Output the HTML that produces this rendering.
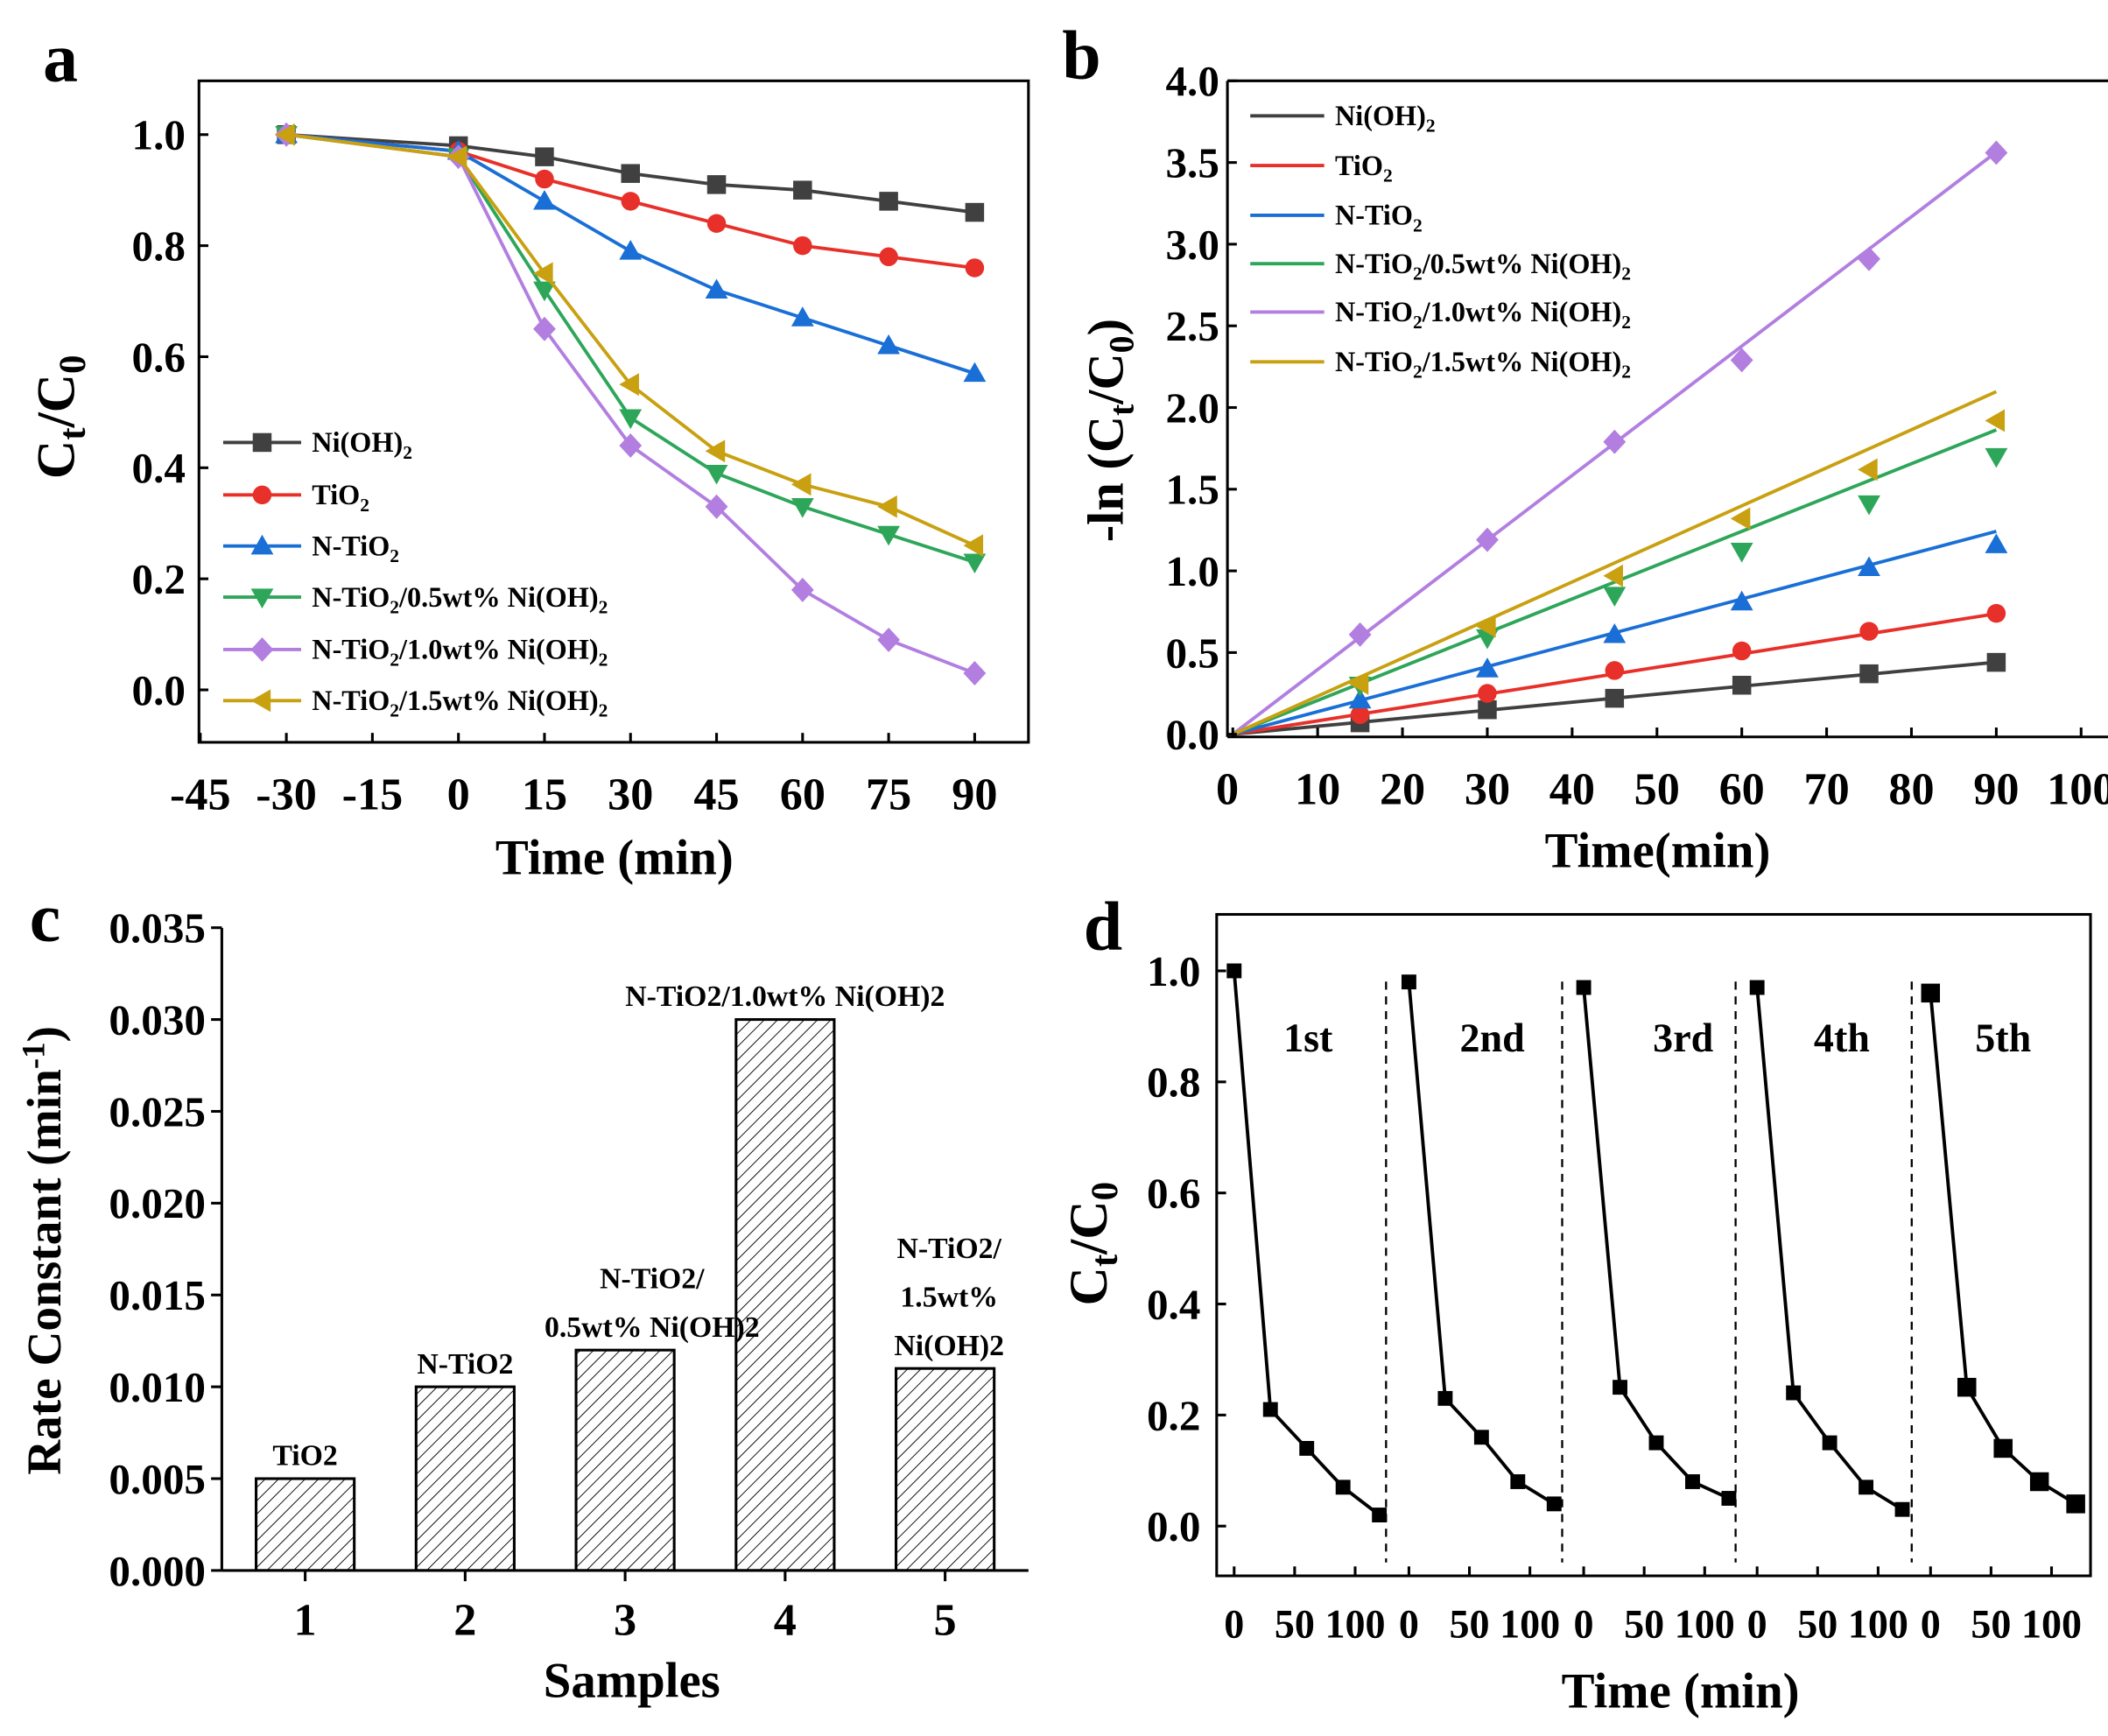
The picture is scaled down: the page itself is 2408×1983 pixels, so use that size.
<!DOCTYPE html>
<html><head><meta charset="utf-8">
<style>
html,body{margin:0;padding:0;background:#fff;}
svg{display:block;}
text{font-family:"Liberation Serif",serif;font-weight:bold;fill:#000;}
</style></head>
<body>
<svg id="fig" width="2408" height="1983" viewBox="0 0 1568 1291" xmlns="http://www.w3.org/2000/svg">
<defs>
<pattern id="hatch" patternUnits="userSpaceOnUse" width="7" height="7" patternTransform="rotate(45)">
<line x1="0" y1="0" x2="0" y2="7" stroke="#000" stroke-width="1.2"/>
</pattern>
</defs>
</svg>
<script>
// ---------- data ----------
const aTimes = [-30, 0, 15, 30, 45, 60, 75, 90];
const aNi = [1, 0.98, 0.96, 0.93, 0.91, 0.90, 0.88, 0.86];
const aTiO2 = [1, 0.97, 0.92, 0.88, 0.84, 0.80, 0.78, 0.76];
const aNTiO2 = [1, 0.97, 0.88, 0.79, 0.72, 0.67, 0.62, 0.57];
const aN05 = [1, 0.96, 0.72, 0.49, 0.39, 0.33, 0.28, 0.23];
const aN10 = [1, 0.96, 0.65, 0.44, 0.33, 0.18, 0.09, 0.03];
const aN15 = [1, 0.96, 0.75, 0.55, 0.43, 0.37, 0.33, 0.26];
const aXTicks = [-45, -30, -15, 0, 15, 30, 45, 60, 75, 90];
const aYTicks = [0.0, 0.2, 0.4, 0.6, 0.8, 1.0];

const bTimes = [15, 30, 45, 60, 75, 90];
const bNi = [0.07, 0.15, 0.22, 0.30, 0.37, 0.44];
const bTiO2 = [0.12, 0.25, 0.39, 0.51, 0.63, 0.74];
const bNTiO2 = [0.21, 0.40, 0.61, 0.81, 1.02, 1.16];
const bN05 = [0.30, 0.59, 0.85, 1.12, 1.41, 1.70];
const bN10 = [0.61, 1.19, 1.79, 2.29, 2.91, 3.56];
const bN15 = [0.31, 0.66, 0.97, 1.32, 1.62, 1.92];
const bSlopes = [0.0049, 0.0082, 0.0138, 0.0207, 0.0396, 0.0233];
const bXTicks = [0, 10, 20, 30, 40, 50, 60, 70, 80, 90, 100];
const bYTicks = [0.0, 0.5, 1.0, 1.5, 2.0, 2.5, 3.0, 3.5, 4.0];

const cSamples = [1, 2, 3, 4, 5];
const cRates = [0.005, 0.010, 0.012, 0.030, 0.011];
const cYTicks = [0.000, 0.005, 0.010, 0.015, 0.020, 0.025, 0.030, 0.035];

const dCycleTimes = [0, 30, 60, 90, 120];
const dCycle1 = [1.0, 0.21, 0.14, 0.07, 0.02];
const dCycle2 = [0.98, 0.23, 0.16, 0.08, 0.04];
const dCycle3 = [0.97, 0.25, 0.15, 0.08, 0.05];
const dCycle4 = [0.97, 0.24, 0.15, 0.07, 0.03];
const dCycle5 = [0.96, 0.25, 0.14, 0.08, 0.04];
const dCycleNames = ["1st", "2nd", "3rd", "4th", "5th"];
const dXTicks = [0, 50, 100];
const dYTicks = [0.0, 0.2, 0.4, 0.6, 0.8, 1.0];

// ---------- helpers ----------
const NS = "http://www.w3.org/2000/svg";
const svg = document.getElementById("fig");
function el(tag, attrs, parent) {
  const e = document.createElementNS(NS, tag);
  for (const k in attrs) e.setAttribute(k, attrs[k]);
  (parent || svg).appendChild(e);
  return e;
}
function txt(x, y, s, size, anchor, parent) {
  const t = el("text", {x: x, y: y, "font-size": size, "text-anchor": anchor || "middle"}, parent);
  t.textContent = s;
  return t;
}
function marker(g, shape, x, y, c, s) {
  let m;
  if (shape === "sq") m = el("rect", {x: x - s, y: y - s, width: 2 * s, height: 2 * s, fill: c}, g);
  else if (shape === "ci") m = el("circle", {cx: x, cy: y, r: s, fill: c}, g);
  else if (shape === "up") m = el("polygon", {points: `${x},${y - s * 1.2} ${x - s * 1.2},${y + s * 0.9} ${x + s * 1.2},${y + s * 0.9}`, fill: c}, g);
  else if (shape === "dn") m = el("polygon", {points: `${x},${y + s * 1.2} ${x - s * 1.2},${y - s * 0.9} ${x + s * 1.2},${y - s * 0.9}`, fill: c}, g);
  else if (shape === "di") m = el("polygon", {points: `${x},${y - s * 1.3} ${x + s * 1.2},${y} ${x},${y + s * 1.3} ${x - s * 1.2},${y}`, fill: c}, g);
  else if (shape === "lt") m = el("polygon", {points: `${x - s * 1.2},${y} ${x + s * 0.9},${y - s * 1.2} ${x + s * 0.9},${y + s * 1.2}`, fill: c}, g);
  
  
  return m;
}
function legendLabel(g, x, y, parts) {
  const t = el("text", {x: x, y: y, "font-size": 21, "text-anchor": "start"}, g);
  parts.forEach(p => {
    const ts = el("tspan", p[1] ? {"font-size": 14, dy: 5} : {dy: p[2] || 0}, t);
    ts.textContent = p[0];
  });
  return t;
}
const colors = ["#404040", "#e8302a", "#1a6fd6", "#2ea65a", "#b27ee0", "#c8a010"];
const shapes = ["sq", "ci", "up", "dn", "di", "lt"];
const legParts = [
  [["Ni(OH)"], ["2", 1]],
  [["TiO"], ["2", 1]],
  [["N-TiO"], ["2", 1]],
  [["N-TiO"], ["2", 1], ["/0.5wt% Ni(OH)", 0, -5], ["2", 1]],
  [["N-TiO"], ["2", 1], ["/1.0wt% Ni(OH)", 0, -5], ["2", 1]],
  [["N-TiO"], ["2", 1], ["/1.5wt% Ni(OH)", 0, -5], ["2", 1]]
];
const legNames = ["legend-nioh2", "legend-tio2", "legend-n-tio2", "legend-n-tio2-0.5wt", "legend-n-tio2-1.0wt", "legend-n-tio2-1.5wt"];

// ---------- Panel A ----------
(function () {
  const g = el("g", {});
  
  
  const L = 148, R = 765, T = 60, B = 552;
  const X = t => 341 + t * (64.0 / 15);
  const Y = v => 513 - v * 413;
  const series = [aNi, aTiO2, aNTiO2, aN05, aN10, aN15];
  series.forEach((s, i) => {
    const sg = el("g", {}, g);
    
    
    el("polyline", {points: s.map((v, j) => X(aTimes[j]) + "," + Y(v)).join(" "), fill: "none", stroke: colors[i], "stroke-width": 2.5}, sg);
    s.forEach((v, j) => marker(sg, shapes[i], X(aTimes[j]), Y(v), colors[i], 7));
  });
  el("rect", {x: L, y: T, width: R - L, height: B - T, fill: "none", stroke: "#000", "stroke-width": 2}, g);
  aXTicks.forEach(t => {
    el("line", {x1: X(t), y1: B, x2: X(t), y2: B - 7, stroke: "#000", "stroke-width": 2}, g);
    const tl = txt(X(t), B + 50, String(t), 34, "middle", g);
    
    
  });
  aYTicks.forEach(v => {
    el("line", {x1: L, y1: Y(v), x2: L + 7, y2: Y(v), stroke: "#000", "stroke-width": 2}, g);
    const tl = txt(L - 10, Y(v) + 11, v.toFixed(1), 32, "end", g);
    
    
  });
  const xt = txt(457, 650, "Time (min)", 37, "middle", g);
  
  
  const yt = el("text", {x: 0, y: 0, "font-size": 40, "text-anchor": "middle", transform: "translate(55,310) rotate(-90)"}, g);
  yt.innerHTML = 'C<tspan font-size="28" dy="8">t</tspan><tspan dy="-8">/C</tspan><tspan font-size="28" dy="8">0</tspan>';
  
  
  const pl = txt(32, 60, "a", 52, "start", g);
  
  
  const legY = [329, 368, 406, 444, 483, 521];
  legY.forEach((y, i) => {
    const lg = el("g", {}, g);
    
    
    el("line", {x1: 166, y1: y, x2: 224, y2: y, stroke: colors[i], "stroke-width": 2.5}, lg);
    marker(lg, shapes[i], 195, y, colors[i], 7);
    legendLabel(lg, 232, y + 7, legParts[i]);
  });
})();

// ---------- Panel B ----------
(function () {
  const g = el("g", {});
  
  
  const L = 913, R = 1568, T = 60, B = 548;
  const X = t => 917 + t * 6.31;
  const Y = v => 546 - v * 121.5;
  const series = [bNi, bTiO2, bNTiO2, bN05, bN10, bN15];
  series.forEach((s, i) => {
    const sg = el("g", {}, g);
    
    
    const fl = el("line", {x1: X(0), y1: Y(0), x2: X(90), y2: Y(bSlopes[i] * 90), stroke: colors[i], "stroke-width": 2.5}, sg);
    
    
    s.forEach((v, j) => marker(sg, shapes[i], X(bTimes[j]), Y(v), colors[i], 7));
  });
  el("line", {x1: L, y1: T, x2: L, y2: B, stroke: "#000", "stroke-width": 2}, g);
  el("line", {x1: L, y1: B, x2: R, y2: B, stroke: "#000", "stroke-width": 2}, g);
  el("line", {x1: L, y1: T, x2: R, y2: T, stroke: "#000", "stroke-width": 2}, g);
  bXTicks.forEach(t => {
    el("line", {x1: X(t), y1: B, x2: X(t), y2: B - 7, stroke: "#000", "stroke-width": 2}, g);
    const tl = txt(X(t) - (t === 0 ? 4 : 0), B + 50, String(t), 34, "middle", g);
    
    
  });
  bYTicks.forEach(v => {
    el("line", {x1: L, y1: Y(v), x2: L + 7, y2: Y(v), stroke: "#000", "stroke-width": 2}, g);
    const tl = txt(L - 6, Y(v) + 11, v.toFixed(1), 32, "end", g);
    
    
  });
  const xt = txt(1233, 645, "Time(min)", 37, "middle", g);
  
  
  const yt = el("text", {x: 0, y: 0, "font-size": 38, "text-anchor": "middle", transform: "translate(835,320) rotate(-90)"}, g);
  yt.innerHTML = '-ln (C<tspan font-size="26" dy="8">t</tspan><tspan dy="-8">/C</tspan><tspan font-size="26" dy="8">0</tspan><tspan dy="-8">)</tspan>';
  
  
  const pl = txt(790, 58, "b", 52, "start", g);
  
  
  const legY = [86, 123, 160, 196, 232, 269];
  legY.forEach((y, i) => {
    const lg = el("g", {}, g);
    
    
    el("line", {x1: 930, y1: y, x2: 985, y2: y, stroke: colors[i], "stroke-width": 2.5}, lg);
    legendLabel(lg, 993, y + 7, legParts[i]);
  });
})();

// ---------- Panel C ----------
(function () {
  const g = el("g", {});
  
  
  const L = 165, R = 765, T = 690, B = 1168;
  const X = s => 227 + (s - 1) * 119;
  const Y = v => B - v / 0.005 * 68.3;
  const bw = 73;
  const barLabels = [["TiO2"], ["N-TiO2"], ["N-TiO2/", "0.5wt% Ni(OH)2"], ["N-TiO2/1.0wt% Ni(OH)2"], ["N-TiO2/", "1.5wt%", "Ni(OH)2"]];
  cSamples.forEach((s, i) => {
    const r = el("rect", {x: X(s) - bw / 2, y: Y(cRates[i]), width: bw, height: B - Y(cRates[i]), fill: "url(#hatch)", stroke: "#000", "stroke-width": 2}, g);
    
    
    const lines = barLabels[i];
    lines.forEach((ln, k) => {
      const t = txt(X(s) + (i === 2 ? 20 : 0) + (i === 4 ? 3 : 0), Y(cRates[i]) - 10 - (lines.length - 1 - k) * 36, ln, 22, "middle", g);
      
      
    });
  });
  el("line", {x1: L, y1: T, x2: L, y2: B, stroke: "#000", "stroke-width": 2}, g);
  el("line", {x1: L, y1: B, x2: R, y2: B, stroke: "#000", "stroke-width": 2}, g);
  cSamples.forEach(s => {
    el("line", {x1: X(s), y1: B, x2: X(s), y2: B + 8, stroke: "#000", "stroke-width": 2}, g);
    const tl = txt(X(s), B + 48, String(s), 34, "middle", g);
    
    
  });
  cYTicks.forEach(v => {
    el("line", {x1: L - 8, y1: Y(v), x2: L, y2: Y(v), stroke: "#000", "stroke-width": 2}, g);
    const tl = txt(L - 12, Y(v) + 11, v.toFixed(3), 32, "end", g);
    
    
  });
  const xt = txt(470, 1262, "Samples", 37, "middle", g);
  
  
  const yt = el("text", {x: 0, y: 0, "font-size": 36, "text-anchor": "middle", transform: "translate(45,930) rotate(-90)"}, g);
  yt.innerHTML = 'Rate Constant (min<tspan font-size="24" dy="-12">-1</tspan><tspan dy="12">)</tspan>';
  
  
  const pl = txt(22, 700, "c", 52, "start", g);
  
  
})();

// ---------- Panel D ----------
(function () {
  const g = el("g", {});
  
  
  const L = 905, R = 1555, T = 680, B = 1172;
  const starts = [918, 1048, 1178, 1307, 1436];
  const dashes = [1031, 1162, 1291, 1422];
  const Y = v => 1135 - v * 413;
  const k = 0.9;
  const cycles = [dCycle1, dCycle2, dCycle3, dCycle4, dCycle5];
  const labX = [973, 1110, 1252, 1370, 1490];
  el("rect", {x: L, y: T, width: R - L, height: B - T, fill: "none", stroke: "#000", "stroke-width": 2}, g);
  dashes.forEach(x => {
    const d = el("line", {x1: x, y1: 730, x2: x, y2: B - 10, stroke: "#000", "stroke-width": 1.5, "stroke-dasharray": "6,5"}, g);
    
    
  });
  cycles.forEach((c, i) => {
    const sg = el("g", {}, g);
    
    
    const pts = c.map((v, j) => (starts[i] + dCycleTimes[j] * k) + "," + Y(v)).join(" ");
    el("polyline", {points: pts, fill: "none", stroke: "#000", "stroke-width": 2.5}, sg);
    c.forEach((v, j) => marker(sg, "sq", starts[i] + dCycleTimes[j] * k, Y(v), "#000", i === 4 ? 7 : 5.5));
    const lt = txt(labX[i], 782, dCycleNames[i], 30, "middle", sg);
    
    
    dXTicks.forEach(t => {
      el("line", {x1: starts[i] + t * k, y1: B, x2: starts[i] + t * k, y2: B - 7, stroke: "#000", "stroke-width": 2}, g);
      const tl = txt(starts[i] + t * k, B + 46, String(t), 30, "middle", g);
      
      
    });
  });
  dYTicks.forEach(v => {
    el("line", {x1: L, y1: Y(v), x2: L + 7, y2: Y(v), stroke: "#000", "stroke-width": 2}, g);
    const tl = txt(L - 12, Y(v) + 11, v.toFixed(1), 32, "end", g);
    
    
  });
  const xt = txt(1250, 1270, "Time (min)", 37, "middle", g);
  
  
  const yt = el("text", {x: 0, y: 0, "font-size": 40, "text-anchor": "middle", transform: "translate(823,925) rotate(-90)"}, g);
  yt.innerHTML = 'C<tspan font-size="28" dy="8">t</tspan><tspan dy="-8">/C</tspan><tspan font-size="28" dy="8">0</tspan>';
  
  
  const pl = txt(806, 706, "d", 52, "start", g);
  
  
})();
</script>
</body></html>
